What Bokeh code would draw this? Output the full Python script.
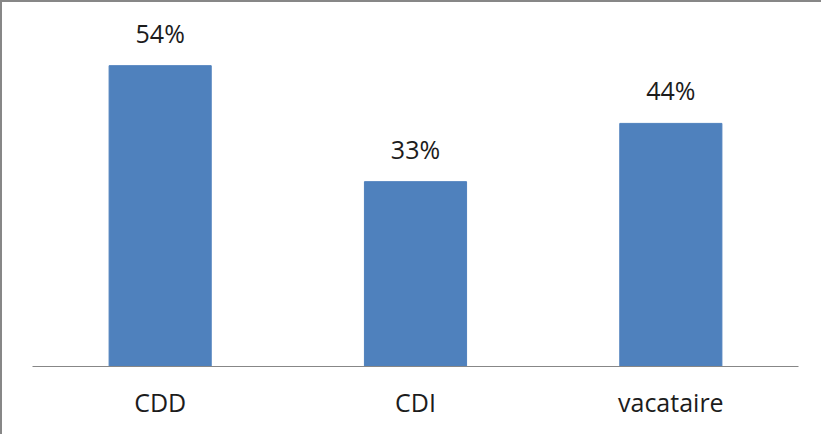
from bokeh.plotting import figure
from bokeh.models import ColumnDataSource, Range1d
from bokeh.core.properties import value
from bokeh.embed import file_html
from bokeh.resources import INLINE

categories = ["CDD", "CDI", "vacataire"]
shares = [0.542, 0.333, 0.438]
labels = [f"{round(v * 100)}%" for v in shares]

source = ColumnDataSource(data=dict(cat=categories, val=shares, lab=labels))

p = figure(
    x_range=categories,
    y_range=Range1d(0, 0.6468),
    width=821,
    height=434,
    output_backend="svg",
    toolbar_location=None,
    min_border_left=30,
    min_border_right=25,
    min_border_top=5,
    min_border_bottom=70,
)
p.styles = {"border-left": "2px solid #878787", "border-top": "2px solid #878787"}

p.vbar(x="cat", top="val", width=0.4, source=source,
       fill_color="#4F81BD", line_color="#4F81BD")

p.text(x="cat", y="val", text="lab", source=source,
       text_align="center", text_baseline="alphabetic", y_offset=-33,
       text_font=value("Open Sans"), text_font_size="25px", text_color="#1c1c1c")

p.yaxis.visible = False
p.xgrid.grid_line_color = None
p.ygrid.grid_line_color = None
p.outline_line_color = None
p.xaxis.axis_line_color = "#878787"
p.xaxis.axis_line_width = 1
p.xaxis.major_tick_line_color = None
p.xaxis.minor_tick_line_color = None
p.xaxis.major_tick_out = 0
p.xaxis.major_tick_in = 0
p.xaxis.major_label_standoff = 18
p.xaxis.major_label_text_font = "Open Sans"
p.xaxis.major_label_text_font_size = "25px"
p.xaxis.major_label_text_color = "#1c1c1c"
p.x_range.range_padding = 0.0
p.background_fill_color = "white"
p.border_fill_color = "white"

open("out.html", "w").write(file_html(p, INLINE))
